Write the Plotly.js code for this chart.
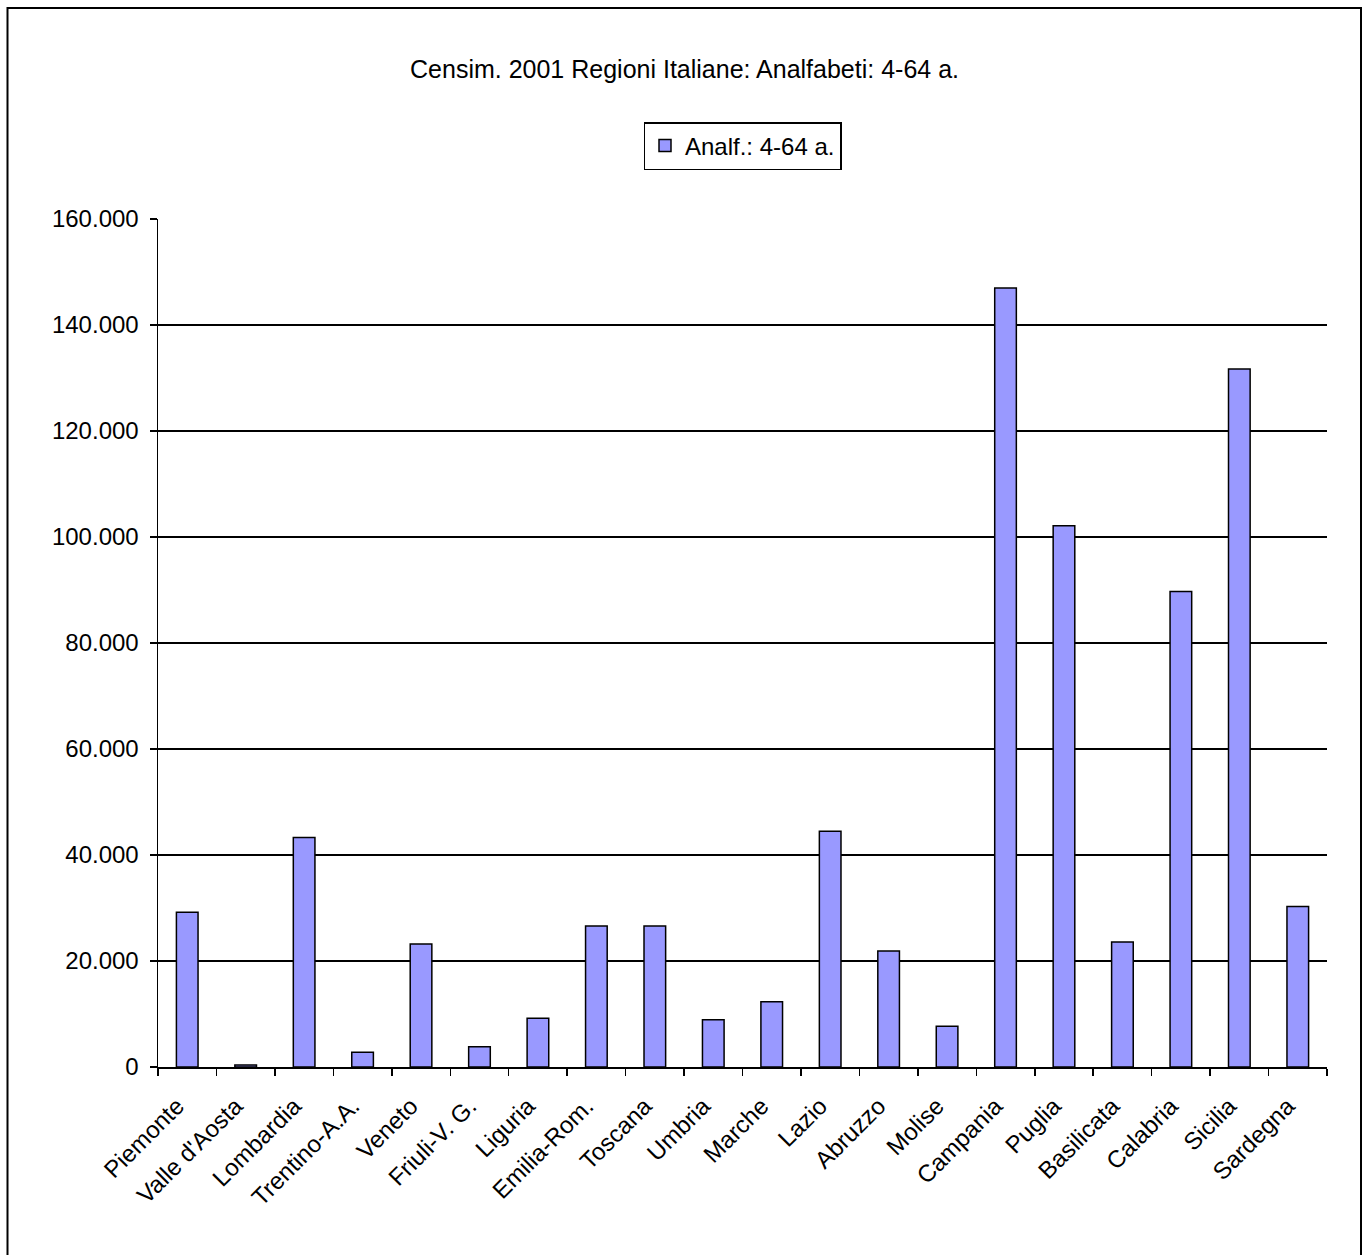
<!DOCTYPE html>
<html>
<head>
<meta charset="utf-8">
<script src="https://cdn.plot.ly/plotly-3.0.1.min.js"></script>
<style>html,body{margin:0;padding:0;background:#fff;}#chart{width:1369px;height:1255px;}</style>
</head>
<body>
<div id="chart"></div>
<script>
var regions = ["Piemonte","Valle d'Aosta","Lombardia","Trentino-A.A.","Veneto","Friuli-V. G.","Liguria","Emilia-Rom.","Toscana","Umbria","Marche","Lazio","Abruzzo","Molise","Campania","Puglia","Basilicata","Calabria","Sicilia","Sardegna"];
var analfabeti = [29200, 400, 43300, 2800, 23200, 3800, 9200, 26600, 26600, 8900, 12300, 44500, 21900, 7700, 147000, 102100, 23600, 89700, 131700, 30300];
var seriesName = "Analf.: 4-64 a.";
var chartTitle = "Censim. 2001 Regioni Italiane: Analfabeti: 4-64 a.";
var yTicks = [0, 20000, 40000, 60000, 80000, 100000, 120000, 140000, 160000];

var L = 158, R = 1327, T = 219, B = 1067, W = 1369, H = 1255;
var pw = R - L, ph = B - T;
var FF = 'Liberation Sans, Arial, sans-serif';

var trace = {
  type: 'bar',
  x: regions,
  y: analfabeti,
  name: seriesName,
  marker: {color: '#9999FF', line: {color: '#000000', width: 1.5}},
  showlegend: true
};

var layout = {
  width: W, height: H,
  margin: {l: L, r: W - R, t: T, b: H - B, pad: 0},
  paper_bgcolor: '#ffffff',
  plot_bgcolor: '#ffffff',
  separators: ',.',
  font: {family: FF, size: 24, color: '#000'},
  title: {
    text: chartTitle,
    font: {family: FF, size: 25, color: '#000'},
    xref: 'container', x: 0.5, xanchor: 'center',
    yref: 'container', y: 1 - 69 / H, yanchor: 'middle'
  },
  bargap: 0.63,
  showlegend: true,
  legend: {
    x: 0.5, xanchor: 'center', xref: 'paper',
    y: (B - 146) / ph, yanchor: 'middle', yref: 'paper',
    bordercolor: '#000', borderwidth: 1.5,
    bgcolor: '#fff',
    font: {family: FF, size: 24},
    itemwidth: 30
  },
  xaxis: {
    type: 'category',
    tickson: 'boundaries',
    ticks: 'outside', ticklen: 7, tickwidth: 1.5, tickcolor: '#000',
    tickangle: -45,
    showline: true, linecolor: '#000', linewidth: 1.5,
    showgrid: false,
    tickfont: {family: FF, size: 24},
    ticklabelstandoff: 14,
    ticklabelshift: -10,
    fixedrange: true
  },
  yaxis: {
    range: [0, 160000],
    tickvals: yTicks,
    tickformat: ',d',
    ticks: 'outside', ticklen: 7, tickwidth: 1.5, tickcolor: '#000',
    showline: true, linecolor: '#000', linewidth: 1.5,
    showgrid: true, gridcolor: '#000', gridwidth: 1.5,
    zeroline: false,
    tickfont: {family: FF, size: 24},
    ticklabelstandoff: 6
  },
  shapes: [{
    type: 'rect', xref: 'paper', yref: 'paper',
    x0: (7.5 - L) / pw, x1: (1361 - L) / pw,
    y0: (B - 1265) / ph, y1: (B - 8) / ph,
    line: {color: '#000', width: 2},
    fillcolor: 'rgba(0,0,0,0)',
    layer: 'below'
  }]
};

Plotly.newPlot('chart', [trace], layout, {displayModeBar: false, staticPlot: true});
</script>
</body>
</html>
